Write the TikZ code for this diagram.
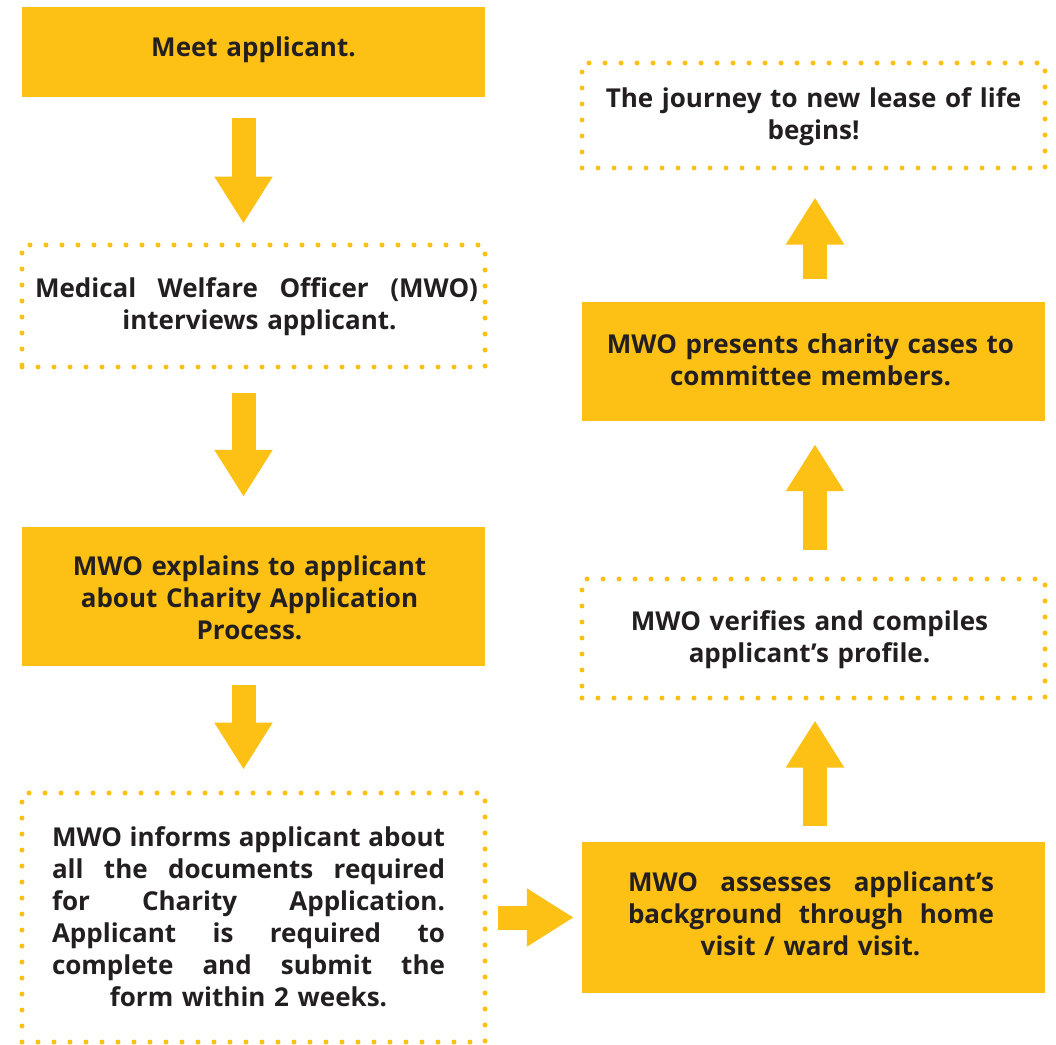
\documentclass[tikz,border=0pt]{standalone}
\usepackage{fontspec}
\setmainfont{Open Sans}
\usetikzlibrary{arrows.meta,calc}
\definecolor{gold}{RGB}{253,193,22}
\definecolor{ink}{RGB}{35,31,32}
\tikzset{
  box/.style={minimum width=463pt, inner sep=0pt, align=center, text=ink,
    font=\fontsize{26}{32}\selectfont\bfseries, text height=18.6pt},
  fillbox/.style={box, fill=gold},
  dotbox/.style={box, draw=gold, line width=5pt, line cap=round, dash pattern=on 0pt off 16pt},
  flow/.style={draw=gold, line width=24pt, -{Triangle[length=47pt,width=55pt,fill=gold]}},
}
% justified line: width, horizontal shift, words separated by \hfill
\newcommand{\jl}[3]{\leavevmode\hbox to #1{\kern#2\relax #3\kern-#2\relax}}
% centred line: width, horizontal shift, text
\newcommand{\cl}[3]{\leavevmode\hbox to #1{\hss\kern#2\relax #3\kern-#2\relax\hss}}
\begin{document}
\begin{tikzpicture}[x=1pt,y=-1pt]
\fill[white] (0,0) rectangle (1056,1044);
\useasboundingbox (0,0) rectangle (1056,1044);

\node[fillbox, minimum height=90pt, text width=440pt, text depth=9pt] (b1) at (253.5,52) {Meet applicant.};
\node[dotbox, minimum height=122pt, text width=443pt, text depth=36pt] (b2) at (253.5,306)
  {\jl{443pt}{3pt}{Medical\hfill Welfare\hfill Officer\hfill (MWO)}\\
   \cl{443pt}{6pt}{interviews applicant.}};
\node[fillbox, minimum height=139pt, text width=440pt, text depth=60pt] (b3) at (253.5,596.5)
  {\cl{440pt}{-4pt}{MWO explains to applicant}\\
   \cl{440pt}{-4pt}{about Charity Application}\\
   \cl{440pt}{-4pt}{Process.}};
\node[dotbox, minimum height=249pt, text width=393pt, text depth=160pt] (b4) at (253.5,917.5)
  {\jl{393pt}{-5pt}{MWO\hfill informs\hfill applicant\hfill about}\\
   \jl{393pt}{-5pt}{all\hfill the\hfill documents\hfill required}\\
   \jl{393pt}{-5pt}{for\hfill Charity\hfill Application.}\\
   \jl{393pt}{-5pt}{Applicant\hfill is\hfill required\hfill to}\\
   \jl{393pt}{-5pt}{complete\hfill and\hfill submit\hfill the}\\
   \cl{393pt}{-5pt}{form within 2 weeks.}};
\node[fillbox, minimum height=151pt, text width=366pt, text depth=70pt] (b5) at (813.5,917.5)
  {\jl{366pt}{-2.5pt}{MWO\hfill assesses\hfill applicant’s}\\
   \jl{366pt}{-2.5pt}{background\hfill through\hfill home}\\
   \cl{366pt}{-3pt}{visit / ward visit.}};
\node[dotbox, minimum height=119pt, text width=440pt, text depth=34pt] (b6) at (813.5,638.5)
  {\cl{440pt}{-4pt}{MWO verifies and compiles}\\
   \cl{440pt}{-4pt}{applicant’s profile.}};
\node[fillbox, minimum height=119pt, text width=440pt, text depth=35pt] (b7) at (813.5,361.5)
  {\cl{440pt}{-3pt}{MWO presents charity cases to}\\
   \cl{440pt}{-3pt}{committee members.}};
\node[dotbox, minimum height=105pt, text width=440pt, text depth=34pt] (b8) at (813.5,115.5)
  {The journey to new lease of life\\begins!};

\draw[flow] ($(b1.south)+(-10,21)$) -- ($(b2.north)+(-10,-19)$);
\draw[flow] ($(b2.south)+(-10,23)$) -- ($(b3.north)+(-10,-30)$);
\draw[flow] ($(b3.south)+(-10,19)$) -- ($(b4.north)+(-10,-21)$);
\draw[flow] ($(b4.east)+(10,0)$) -- ($(b5.west)+(-8,0)$);
\draw[flow] ($(b5.north)+(1.5,-16)$) -- ($(b6.south)+(1.5,20)$);
\draw[flow] ($(b6.north)+(1.5,-27)$) -- ($(b7.south)+(1.5,23)$);
\draw[flow] ($(b7.north)+(1.5,-23)$) -- ($(b8.south)+(1.5,27)$);
\end{tikzpicture}
\end{document}
